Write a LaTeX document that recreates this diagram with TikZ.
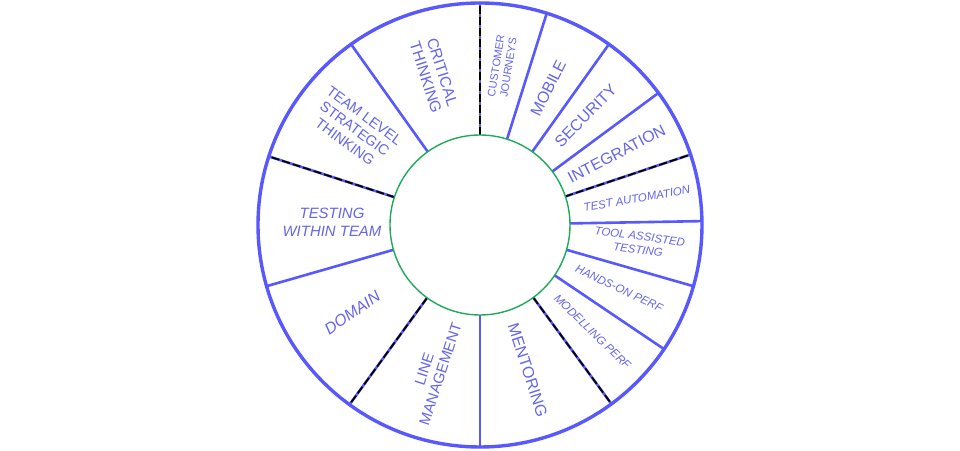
\documentclass[tikz,border=0pt]{standalone}
\usepackage{fontspec}
\setmainfont{Liberation Sans}
\definecolor{wheelblue}{RGB}{88,88,255}
\definecolor{labelblue}{RGB}{100,100,236}
\definecolor{hubgreen}{RGB}{30,170,90}
\newcommand{\fsz}[2]{\fontsize{#1}{#2}\selectfont}
\begin{document}
\begin{tikzpicture}[x=1bp, y=1bp,
    spoke/.style={wheelblue, line width=2.6bp},
    splitspoke/.style={black, line width=1.8bp, dash pattern=on 8bp off 3bp},
    seglabel/.style={labelblue, align=center, inner sep=0pt}]

\useasboundingbox (-480,-226) rectangle (480,225);
\coordinate (hub) at (0,0);

% spokes between the segments
\foreach \a in {72.5, 54.5, 36.5, 1, -16, -34, -90, -164, 125.5}
    \draw[spoke] (\a:90) -- (\a:222);
\foreach \a in {90, 18.5, -53.7, -126, 162} {
    \draw[spoke] (\a:90) -- (\a:222);
    \draw[splitspoke] (\a:90) -- (\a:222);
}

\draw[wheelblue, line width=3.4bp] (hub) circle (222);
\draw[hubgreen, line width=1.4bp] (hub) circle (90);

% right half, reading outwards
\node[seglabel, rotate=81, font=\fsz{11}{12.5}] (cust) at (82:160) {CUSTOMER\\JOURNEYS};
\node[seglabel, rotate=63.5, font=\fsz{16}{19}] (mob) at (63.5:153) {MOBILE};
\node[seglabel, rotate=45.5, font=\fsz{16}{19}] (sec) at (46:152) {SECURITY};
\node[seglabel, rotate=27.5, font=\fsz{16}{19}] (integ) at (27.5:154) {INTEGRATION};
\node[seglabel, rotate=9.75, font=\itshape\fsz{11.5}{14}] (auto) at (9.5:159) {TEST AUTOMATION};
\node[seglabel, rotate=-7.5, font=\itshape\fsz{11.5}{13.5}] (tool) at (-6.5:160) {TOOL ASSISTED\\TESTING};
\node[seglabel, rotate=-25, font=\itshape\fsz{11.5}{14}] (hands) at (-24.5:153) {HANDS-ON PERF};
\node[seglabel, rotate=-44, font=\itshape\fsz{11.5}{14}] (model) at (-43.5:155) {MODELLING PERF};
\node[seglabel, rotate=-72, font=\fsz{16}{19}] (ment) at (-71.8:153) {MENTORING};

% left half, reading inwards
\node[seglabel, rotate=72, font=\fsz{15}{17}] (line) at (-108:154) {LINE\\MANAGEMENT};
\node[seglabel, rotate=35, font=\itshape\fsz{16}{19}] (dom) at (214.5:155) {DOMAIN};
\node[seglabel, font=\itshape\fsz{15}{18}] (team) at (179:148) {TESTING\\WITHIN TEAM};
\node[seglabel, rotate=-36.25, font=\fsz{14.5}{16.5}] (strat) at (142.5:158) {TEAM LEVEL\\STRATEGIC\\THINKING};
\node[seglabel, rotate=-72.25, font=\fsz{15.5}{17.5}] (crit) at (107:157) {CRITICAL\\THINKING};

\end{tikzpicture}
\end{document}
